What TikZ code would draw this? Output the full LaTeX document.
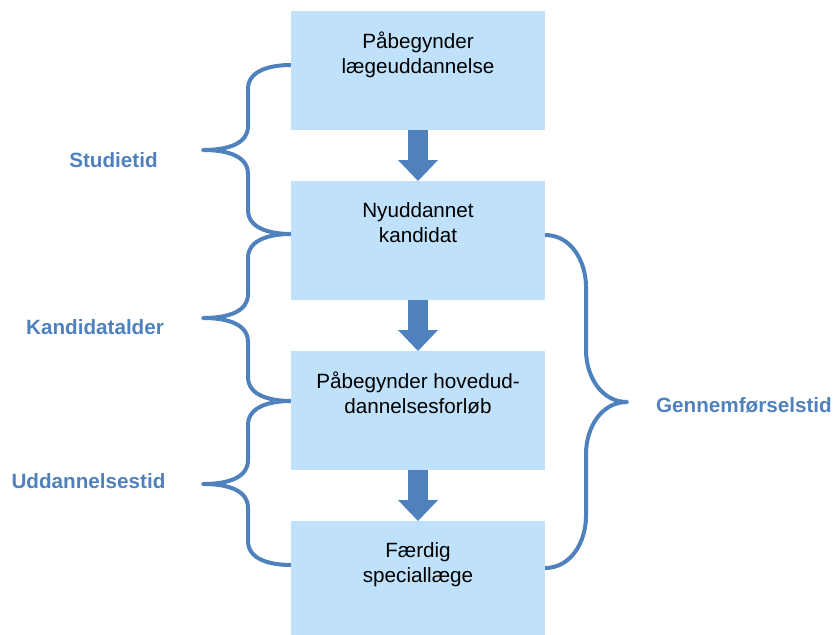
\documentclass[tikz,border=0pt]{standalone}
\usepackage{fontspec}
\setmainfont{Liberation Sans}
\usetikzlibrary{positioning,calc,arrows.meta}
\definecolor{boxblue}{RGB}{191,225,251}
\definecolor{darkblue}{RGB}{79,129,189}
\tikzset{box/.style={fill=boxblue, minimum width=6.35cm, minimum height=2.975cm, inner sep=0, outer sep=0}}
\tikzset{boxtext/.style={inner sep=0, align=center, font=\fontsize{14.7}{17.8}\selectfont}}
\tikzset{stage/.style={text=darkblue, inner sep=0, anchor=base, font=\bfseries\fontsize{14.7}{17.8}\selectfont}}
\tikzset{brace/.style={draw=darkblue, line width=0.1cm, line cap=round, line join=round}}
\tikzset{blockarrow/.style={draw=darkblue, line width=0.5cm, -{Triangle[width=1cm,length=0.525cm,line width=0pt]}}}
\newcommand{\drawbox}{\node[box]}
\newcommand{\drawtext}{\node[boxtext]}
% left brace: top end, tip, bottom end, bend
\newcommand{\bracel}[4]{\draw[brace] (#1) to[out=180,in=90] ($(#2 |- #1)+(1.125,-#4)$) -- ($(#2)+(1.125,#4)$) to[out=270,in=0] (#2) to[out=0,in=90] ($(#2)+(1.125,-#4)$) -- ($(#2 |- #3)+(1.125,#4)$) to[out=270,in=180] (#3);}
% right brace: top end, tip, bottom end, bend
\newcommand{\bracer}[4]{\draw[brace] (#1) to[out=0,in=90] ($(#2 |- #1)+(-1.025,-#4)$) -- ($(#2)+(-1.025,#4)$) to[out=270,in=180] (#2) to[out=180,in=90] ($(#2)+(-1.025,-#4)$) -- ($(#2 |- #3)+(-1.025,#4)$) to[out=270,in=0] (#3);}

\begin{document}
\begin{tikzpicture}[scale=1]
	\useasboundingbox (0,0) rectangle (20.85,-15.85);
	
	\coordinate (s1) at (7.275,-1.625);
	\coordinate (s2) at (7.275,-5.85);
	\coordinate (s3) at (7.275,-10.025);
	\coordinate (s4) at (7.275,-14.125);
	\coordinate (t1) at (5.075,-3.75);
	\coordinate (t2) at (5.075,-7.95);
	\coordinate (t3) at (5.075,-12.1);
	\coordinate (r1) at (13.625,-5.875);
	\coordinate (rt) at (15.675,-10.05);
	\coordinate (r2) at (13.625,-14.2);
	
	\bracel{s1}{t1}{s2}{0.6}
	\bracel{s2}{t2}{s3}{0.6}
	\bracel{s3}{t3}{s4}{0.6}
	\bracer{r1}{rt}{r2}{1.3}
	
	\drawbox (b1) at (10.45,-1.7625) {};
	\drawbox (b2) [below=1.275cm of b1] {};
	\drawbox (b3) [below=1.275cm of b2] {};
	\drawbox (b4) [below=1.275cm of b3] {};
	
	\drawtext (x1) [below=0.51cm of b1.north] {Påbegynder\\lægeuddannelse};
	\drawtext (x2) [below=0.52cm of b2.north] {Nyuddannet\\kandidat};
	\drawtext (x3) [below=0.51cm of b3.north] {Påbegynder hovedud-\\dannelsesforløb};
	\drawtext (x4) [below=0.54cm of b4.north] {Færdig\\speciallæge};
	
	\draw[blockarrow] (b1) -- (b2);
	\draw[blockarrow] (b2) -- (b3);
	\draw[blockarrow] (b3) -- (b4);
	
	\node[stage] (studie) at (2.8375,-4.175) {Studietid};
	\node[stage] (kandidat) at (2.375,-8.35) {Kandidatalder};
	\node[stage] (uddannelse) at (2.2125,-12.2) {Uddannelsestid};
	\node[stage] (gennem) at (18.6,-10.3) {Gennemførselstid};
	
\end{tikzpicture}
\end{document}
